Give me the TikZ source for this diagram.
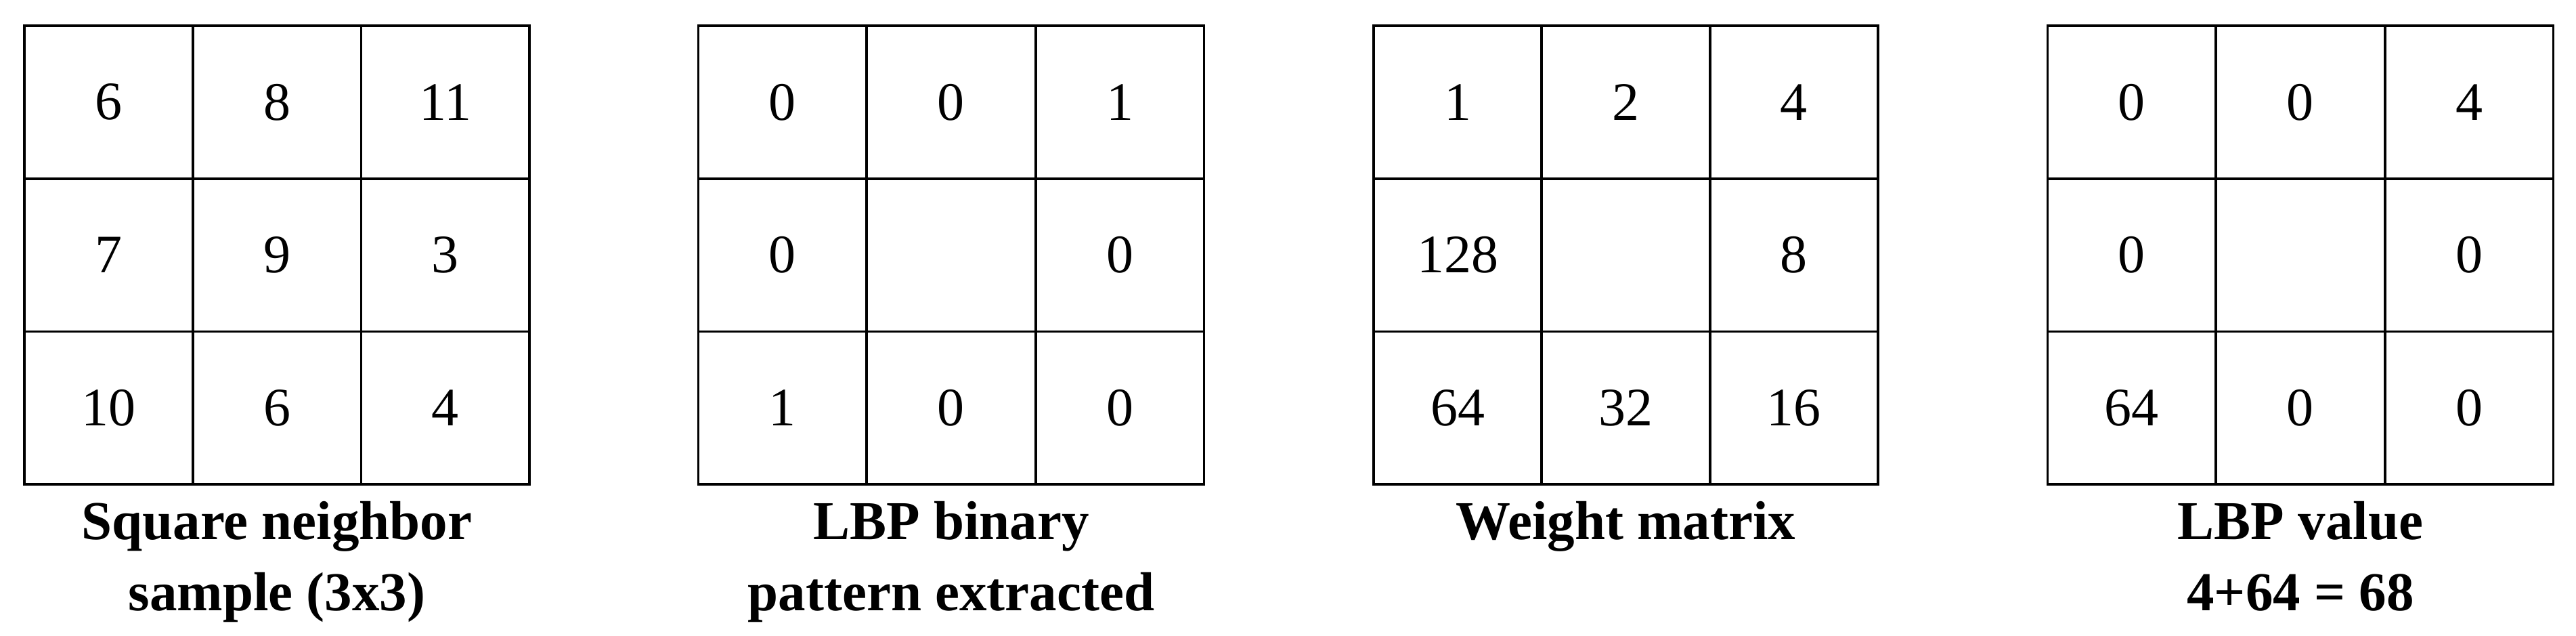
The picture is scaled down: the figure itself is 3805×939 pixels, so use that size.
\documentclass[tikz,border=0pt]{standalone}
\usepackage{fontspec}
\setmainfont{Liberation Serif}
\begin{document}
\begin{tikzpicture}[x=1pt,y=-1pt,
  cell/.style={draw=black, line width=3.6pt, minimum width=248.7pt, minimum height=225.7pt, inner sep=0pt, anchor=center, font=\fontsize{80}{90}\selectfont},
  capline/.style={anchor=base, inner sep=0pt, font=\fontsize{81}{90}\selectfont\bfseries}]
\useasboundingbox (0,0) rectangle (3805,939);
% grid 1
\foreach \v [count=\i from 0] in {6,8,11,7,9,3,10,6,4}{
  \pgfmathtruncatemacro\r{div(\i,3)}\pgfmathtruncatemacro\c{mod(\i,3)}
  \node[cell] (a\i) at ({36+248.7*(\c+0.5)},{38+225.7*(\r+0.5)}) {\v};}
% grid 2
\foreach \v [count=\i from 0] in {0,0,1,0,{},0,1,0,0}{
  \pgfmathtruncatemacro\r{div(\i,3)}\pgfmathtruncatemacro\c{mod(\i,3)}
  \node[cell] (b\i) at ({1031+249.3*(\c+0.5)},{38+225.7*(\r+0.5)}) {\v};}
% grid 3
\foreach \v [count=\i from 0] in {1,2,4,128,{},8,64,32,16}{
  \pgfmathtruncatemacro\r{div(\i,3)}\pgfmathtruncatemacro\c{mod(\i,3)}
  \node[cell] (c\i) at ({2029+248.3*(\c+0.5)},{38+225.7*(\r+0.5)}) {\v};}
% grid 4
\foreach \v [count=\i from 0] in {0,0,4,0,{},0,64,0,0}{
  \pgfmathtruncatemacro\r{div(\i,3)}\pgfmathtruncatemacro\c{mod(\i,3)}
  \node[cell] (d\i) at ({3024+249.3*(\c+0.5)},{38+225.7*(\r+0.5)}) {\v};}
% captions
\node[capline] (capa1) at (409,796) {Square neighbor};
\node[capline] (capa2) at (409,901) {sample (3x3)};
\node[capline] (capb1) at (1405,796) {LBP binary};
\node[capline] (capb2) at (1405,901) {pattern extracted};
\node[capline] (capc1) at (2401.5,796) {Weight matrix};
\node[capline] (capd1) at (3398,796) {LBP value};
\node[capline] (capd2) at (3398,901) {4+64 = 68};
\end{tikzpicture}
\end{document}
